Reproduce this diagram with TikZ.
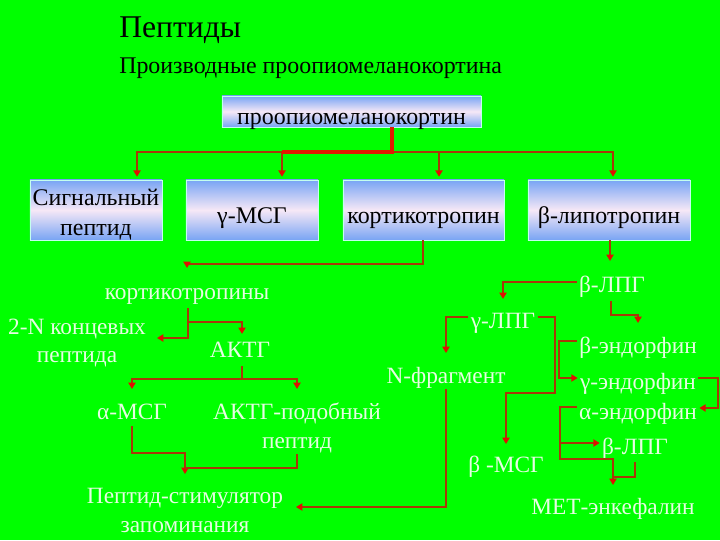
\documentclass[tikz,border=0pt]{standalone}
\usepackage{fontspec}
\setmainfont{Liberation Serif}
\usetikzlibrary{arrows.meta}
\definecolor{slidegreen}{HTML}{00FF00}
\definecolor{boxblue}{HTML}{78A4F4}
\definecolor{boxpink}{HTML}{F6E8F6}
\definecolor{boxedge}{HTML}{C4FFEE}
\definecolor{linkred}{HTML}{A83A08}
\definecolor{tipred}{HTML}{E01000}
\definecolor{trunkred}{HTML}{E01A00}
\definecolor{paletext}{HTML}{E6FCE2}
\tikzset{
  heading/.style={inner sep=0pt, font=\fontsize{22.5}{26}\selectfont},
  subheading/.style={inner sep=0pt, font=\fontsize{17}{20}\selectfont},
  gradpair/.style={rectangle, draw=boxedge, line width=0.6pt, top color=boxblue, bottom color=boxblue, middle color=boxpink, align=center, inner sep=0pt, font=\fontsize{17}{21.3}\selectfont},
  gradbox/.style={gradpair, text height=18.5pt, text depth=0pt},
  lblpair/.style={text=paletext, align=center, inner sep=1.5pt, font=\fontsize{16.6}{20.3}\selectfont},
  lbl/.style={lblpair, text height=15.3pt, text depth=4.2pt},
  link/.style={draw=linkred, line width=1.9pt},
  flow/.style={link, -{Triangle[length=1.6mm, width=1.8mm, color=tipred]}},
  trunk/.style={draw=trunkred, line width=2.4pt}
}
\begin{document}
\begin{tikzpicture}[x=0.025cm, y=-0.025cm]
\fill[slidegreen] (0,0) rectangle (720,540);
\useasboundingbox (0,0) rectangle (720,540);

% Heading.
\node[heading, anchor=base west] (title) at (119,37) {Пептиды};
\node[subheading, anchor=base west] (subtitle) at (119,73) {Производные проопиомеланокортина};

% Precursor and the four cleavage products.
\node[gradbox, minimum width=6.475cm, minimum height=0.775cm] (pomc) at (351.5,111.5) {проопиомеланокортин};
\node[gradpair, text height=39pt, minimum width=3.3cm, minimum height=1.5cm] (signal) at (96,210) {Сигнальный\\пептид};
\node[gradbox, minimum width=3.3cm, minimum height=1.5cm] (gmsh) at (252,210) {γ-МСГ};
\node[gradbox, minimum width=4.025cm, minimum height=1.5cm] (kort) at (423.5,210) {кортикотропин};
\node[gradbox, minimum width=4.05cm, minimum height=1.5cm] (blpt) at (609,210) {β-липотропин};

\foreach \n/\x in {signal/137,gmsh/282,kort/439,blpt/613} {
  \draw[flow, shorten >=2pt] (392,152) -| (\n.north -| \x,0);
}
\draw[trunk] (pomc.south -| 392,0) -- (392,152) -- (282,152);

% Corticotropin branch.
\node[lbl] (kortiny) at (187,292) {кортикотропины};
\node[lblpair] (nterm) at (77,343) {2-N концевых\\пептида};
\node[lbl] (aktg) at (240,350) {АКТГ};
\node[lbl] (amsg) at (132,412) {α-МСГ};
\node[lblpair] (aktgp) at (297,428) {АКТГ-подобный\\пептид};
\node[lblpair] (memory) at (185,510.5) {Пептид-стимулятор\\запоминания};

\draw[flow] (kort.south -| 423,0) -- (423,264) -| (kortiny.north |- 0,268);
\draw[flow] (kortiny.south -| 188,0) -- (188,338) -- (157,338);
\draw[flow] (188,322) -| (aktg.north -| 242,0);
\draw[link] (aktg.south -| 242,0) -- (242,379);
\draw[flow] (242,379) -| (amsg.north |- 0,389);
\draw[flow] (242,379) -| (aktgp.north |- 0,389);
\draw[flow] (amsg.south |- 0,426) -- (amsg.south |- 0,453) -| (memory.north |- 0,474);
\draw[link] (aktgp.south |- 0,454) |- (memory.north |- 0,468);

% Lipotropin branch.
\node[lbl] (blpg) at (612,285) {β-ЛПГ};
\node[lbl] (glpg) at (503,321) {γ-ЛПГ};
\node[lbl] (bendo) at (638,346) {β-эндорфин};
\node[lbl] (nfrag) at (446,376) {N-фрагмент};
\node[lbl] (gendo) at (638,382) {γ-эндорфин};
\node[lbl] (aendo) at (638,412) {α-эндорфин};
\node[lbl] (blpgb) at (635,447) {β-ЛПГ};
\node[lbl] (bmsg) at (506,465) {β -МСГ};
\node[lbl] (metenk) at (613,507) {МЕТ-энкефалин};

\draw[flow] (blpt.south -| 610,0) -- (610,261);
\draw[flow] (blpg.west |- 0,282) -| (glpg.north |- 0,299);
\draw[flow] (blpg.south -| 611,0) -- (611,315) -| (bendo.north |- 0,323);
\draw[flow] (glpg.west |- 0,317) -| (nfrag.north |- 0,353);
\draw[flow] (glpg.east |- 0,317) -| (555,393) -| (bmsg.north |- 0,444);
\draw[flow] (bendo.west |- 0,341) -| (559,360) |- (gendo.west |- 0,378);
\draw[flow] (gendo.east |- 0,378) -| (718,393) |- (aendo.east |- 0,408);
\draw[flow] (aendo.west |- 0,407) -| (560,443) -- (blpgb.west |- 0,443);
\draw[flow] (560,443) -- (560,459) -| (metenk.north |- 0,485);
\draw[link] (blpgb.south |- 0,462) |- (metenk.north |- 0,477);
\draw[flow] (nfrag.south |- 0,389) |- (296,507);

\end{tikzpicture}
\end{document}
